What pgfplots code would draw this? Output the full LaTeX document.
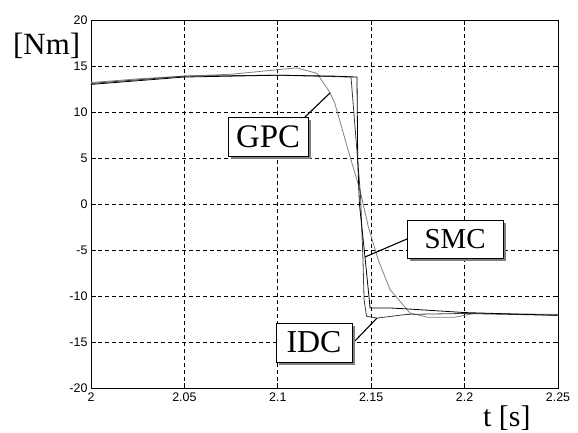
\documentclass[border=0pt]{standalone}
\usepackage{fontspec}
\setmainfont{Liberation Serif}
\newfontfamily\arial{Liberation Sans}
\usepackage{pgfplots}
\pgfplotsset{compat=1.18}
\usetikzlibrary{shadows}
\definecolor{cgray}{RGB}{128,128,128}
\definecolor{cdark}{RGB}{60,60,60}
\begin{document}
\begin{tikzpicture}
\begin{axis}[
  scale only axis, width=467bp, height=368bp,
  xmin=2, xmax=2.25, ymin=-20, ymax=20,
  xtick={2,2.05,2.1,2.15,2.2,2.25},
  xticklabels={2,2.05,2.1,2.15,2.2,2.25},
  ytick={-20,-15,-10,-5,0,5,10,15,20},
  yticklabels={-20,-15,-10,-5,0,5,10,15,20},
  tick label style={font=\arial\fontsize{12.5}{13}\selectfont, black},
  tick align=inside, major tick length=5bp,
  tick style={black, line width=0.7bp},
  axis line style={black, line width=0.9bp},
  grid=major,
  major grid style={black, line width=0.7bp, dash pattern=on 4bp off 3bp},
  clip=false,
  xticklabel style={yshift=-1bp},
]
% GPC (gray, overshoot, gradual drop)
\addplot[cgray, line width=0.8bp] coordinates {
(2.000,13.2)(2.025,13.6)(2.050,13.9)(2.075,14.1)(2.095,14.5)(2.110,14.8)(2.121,14.2)(2.128,12.1)(2.1306,10.9)(2.1376,5.9)(2.1440,1.5)(2.1485,-2.5)(2.1538,-6.1)(2.1601,-9.3)(2.1708,-11.85)(2.180,-12.3)(2.195,-12.3)(2.205,-11.9)(2.25,-12.0)};
% IDC (dark gray)
\addplot[cdark, line width=0.8bp] coordinates {
(2.000,13.1)(2.050,13.9)(2.100,14.0)(2.1392,13.8)(2.1443,0.9)(2.1456,-6.1)(2.1462,-10.4)(2.1475,-12.2)(2.1531,-12.4)(2.169,-12.0)(2.200,-11.9)(2.250,-12.1)};
% SMC (black)
\addplot[black, line width=0.8bp] coordinates {
(2.000,13.0)(2.050,13.8)(2.100,14.0)(2.130,13.9)(2.1424,13.8)(2.1428,4.8)(2.1437,0)(2.1467,-5.8)(2.1494,-11.3)(2.160,-11.3)(2.169,-11.4)(2.200,-11.8)(2.250,-12.1)};
% leaders
\draw[black, line width=1.1bp] (axis cs:2.11456,9.457) -- (axis cs:2.12794,12.065);
\draw[black, line width=1.1bp] (axis cs:2.16916,-3.804) -- (axis cs:2.14668,-5.761);
\draw[black, line width=1.1bp] (axis cs:2.14026,-15.109) -- (axis cs:2.15310,-12.391);
% label boxes
\tikzset{lbl/.style={draw=black, fill=white, line width=0.9bp, inner sep=0pt, align=center,
  drop shadow={shadow xshift=3bp, shadow yshift=-3bp, fill=cgray, opacity=1}}}
\node[lbl, minimum width=80bp, minimum height=39bp, font=\fontsize{33}{33}\selectfont] at (axis cs:2.0948,7.337) {GPC};
\node[lbl, minimum width=96bp, minimum height=38bp, font=\fontsize{29}{29}\selectfont] at (axis cs:2.1949,-3.804) {SMC};
\node[lbl, minimum width=76bp, minimum height=39bp, font=\fontsize{32}{32}\selectfont] at (axis cs:2.1194,-15.054) {IDC};
% axis labels
\node[anchor=base west, inner sep=0pt, font=\fontsize{31}{31}\selectfont] at (axis cs:1.95824,16.196) {[Nm]};
\node[anchor=base west, inner sep=0pt, font=\fontsize{30}{30}\selectfont] at (axis cs:2.20985,-24.207) {t [s]};
\coordinate (bl) at (axis cs:1.95129,-24.891);
\coordinate (tr) at (axis cs:2.26071,22.174);
\end{axis}
\pgfresetboundingbox
\path[use as bounding box] (bl) rectangle (tr);
\end{tikzpicture}
\end{document}
